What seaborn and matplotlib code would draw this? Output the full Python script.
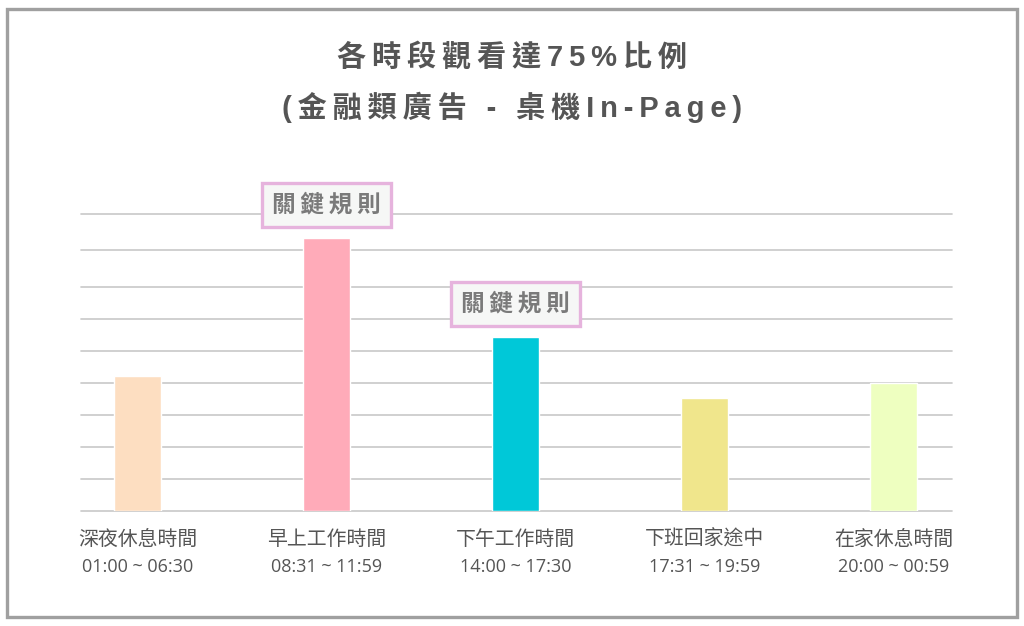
import matplotlib
matplotlib.use("Agg")
import matplotlib.pyplot as plt
import seaborn as sns
import pandas as pd
from matplotlib.patches import Rectangle

# data (arbitrary units)
periods = ["深夜休息時間", "早上工作時間", "下午工作時間", "下班回家途中", "在家休息時間"]
time_ranges = ["01:00 ~ 06:30", "08:31 ~ 11:59", "14:00 ~ 17:30", "17:31 ~ 19:59", "20:00 ~ 00:59"]
ratio = [21.1, 42.7, 27.2, 17.7, 20.0]
bar_colors = ["#fddec1", "#ffabb9", "#00c8d8", "#f0e68c", "#eeffc0"]
highlight = ["", "關鍵規則", "關鍵規則", "", ""]
grid_levels = [0, 5, 10, 15, 20, 25, 30, 35, 40.7, 46.4]
title_1 = "各時段觀看達75%比例"
title_2 = "(金融類廣告 - 桌機In-Page)"


def spaced(s):
    # a bit of letter spacing, the thin space comes from the fallback font
    return "\u2009".join(s)


df = pd.DataFrame({"period": periods, "ratio": ratio})

sns.set_theme(style="white")
plt.rcParams["font.family"] = ["Open Sans", "Noto Sans CJK TC", "DejaVu Sans"]

fig = plt.figure(figsize=(10.24, 6.26), dpi=100)
ax = fig.add_axes([81 / 1024, 1 - 511 / 626, 871 / 1024, 297 / 626])

sns.barplot(data=df, x="period", y="ratio", hue="period", palette=bar_colors,
            legend=False, width=0.25, saturation=1, ax=ax, zorder=3)

ax.set_xlim(-0.30, 4.31)
ax.set_ylim(0, grid_levels[-1])
for g in grid_levels:
    ax.axhline(g, color="#c8c8c8", lw=1.2, zorder=1, clip_on=False)

ax.set_yticks([])
ax.set_xlabel("")
ax.set_ylabel("")
sns.despine(ax=ax, left=True, bottom=True)
ax.set_xticks(range(len(periods)))
ax.set_xticklabels(periods, fontsize=14.3, color="#555555",
                   family=["Noto Sans CJK TC", "DejaVu Sans"])
ax.tick_params(axis="x", length=0, pad=13)
for i, t in enumerate(time_ranges):
    ax.annotate(t, xy=(i, 0), xycoords=("data", "axes fraction"),
                xytext=(0, -56), textcoords="offset pixels",
                ha="center", va="center", fontsize=13, color="#555555",
                annotation_clip=False)

# highlight boxes
for i, lab in enumerate(highlight):
    if lab:
        ax.annotate(spaced(lab), xy=(i, ratio[i]), xytext=(0, 33), textcoords="offset pixels",
                    ha="center", va="center", fontsize=17, fontweight="bold",
                    color="#7a7a7a", family=["Noto Sans CJK TC", "DejaVu Sans"],
                    annotation_clip=False,
                    bbox=dict(boxstyle="square,pad=0.42", fc="#f6f7f6", ec="#e6b3dd", lw=2.4))

title_font = ["Liberation Sans", "Noto Sans CJK TC", "DejaVu Sans"]
fig.text(0.5, 1 - 58 / 626, spaced(title_1), ha="center", va="center",
         fontsize=21, fontweight="bold", color="#555555", family=title_font)
fig.text(0.5, 1 - 107 / 626, spaced(title_2), ha="center", va="center",
         fontsize=21, fontweight="bold", color="#555555", family=title_font)

# outer frame
fig.patches.append(Rectangle((7 / 1024, 9 / 626), 1010 / 1024, 608 / 626,
                             transform=fig.transFigure, fill=False,
                             ec="#a0a0a0", lw=2.4))

fig.savefig("out.png", dpi=100, facecolor="white")
